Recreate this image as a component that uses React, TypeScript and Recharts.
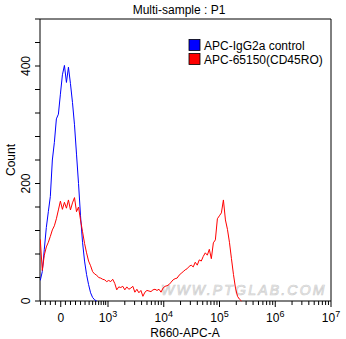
import { LineChart, Line, XAxis, YAxis, ReferenceArea } from 'recharts'

// histogram bins, in display units (one unit = one decade, 10^3 sits at 3)
const BIN_START = 1.785
const BIN_STEP = 0.0361

const controlCounts = [
  35, 50, 88, 125, 152, 178, 240, 270, 310, 318,
  352, 385, 401, 372, 398, 370, 338, 300, 250, 200,
  145, 100, 68, 45, 28, 14, 6, 2, 0,
]

const cd45roCounts = [
  105, 52, 78, 92, 100, 110, 121, 128, 140, 155,
  170, 156, 168, 158, 172, 155, 167, 176, 152, 160,
  138, 118, 98, 82, 68, 60, 50, 46, 44, 40,
  39, 37, 36, 33, 35, 33, 37, 30, 19, 24,
  23, 25, 19, 24, 20, 22, 25, 15, 20, 14,
  18, 8, 15, 18, 17, 16, 19, 20, 18, 20,
  15, 22, 25, 26, 28, 32, 36, 38, 39, 44,
  47, 50, 53, 55, 59, 61, 58, 66, 61, 70,
  68, 76, 82, 78, 88, 72, 99, 104, 140, 145,
  150, 172, 138, 122, 100, 72, 45, 22, 8, 3,
  0,
]

const seriesNames = ['APC-IgG2a control', 'APC-65150(CD45RO)']
const seriesColors = ['#0000ff', '#ff0000']

// x axis (biexponential): zero lands at 2.152, decades above 10^3 are linear in log
const ZERO_POS = 2.152
const xMajorTicks = [ZERO_POS, 3, 4, 5, 6, 7]
const xMajorExponents = ['', '3', '4', '5', '6', '7']
const xLinearMinor = [1.79, 1.875, 1.966, 2.056, 2.236, 2.327, 2.417, 2.507, 2.588, 2.661, 2.724, 2.778, 2.832, 2.877, 2.922, 2.958]

const yTicks = [0, 40, 80, 120, 160, 200, 240, 280, 320, 360, 400, 440, 480]
const yLabelled = [0, 200, 400]

const FONT = '"Liberation Sans", Arial, sans-serif'

const toBins = (counts: number[]) =>
  counts.map((count, i) => ({ x: BIN_START + i * BIN_STEP, count }))

const logMinor: number[] = []
for (let k = 3; k < 7; k++) {
  for (let m = 2; m <= 9; m++) logMinor.push(k + Math.log10(m))
}
const xTicks = [...xLinearMinor, ...xMajorTicks, ...logMinor].sort((a, b) => a - b)

function XTick({ x, y, payload }: any) {
  const idx = xMajorTicks.findIndex((t) => Math.abs(t - payload.value) < 1e-6)
  return (
    <g>
      <line x1={x} y1={y} x2={x} y2={y + (idx >= 0 ? 6 : 4)} stroke="#000" />
      {idx === 0 && (
        <text x={x} y={y + 20.5} textAnchor="middle" fontSize={12} fontFamily={FONT} fill="#000">0</text>
      )}
      {idx > 0 && (
        <text x={x} y={y + 20.5} textAnchor="middle" fontSize={12} fontFamily={FONT} fill="#000">
          10<tspan dy={-4.5} fontSize={9}>{xMajorExponents[idx]}</tspan>
        </text>
      )}
    </g>
  )
}

function YTick({ x, y, payload }: any) {
  const show = yLabelled.includes(payload.value)
  return (
    <g>
      <line x1={x - 5} y1={y} x2={x} y2={y} stroke="#000" />
      {show && (
        <text
          x={x - 10}
          y={y}
          transform={`rotate(-90 ${x - 10} ${y})`}
          textAnchor="middle"
          fontSize={12}
          fontFamily={FONT}
          fill="#000"
        >
          {payload.value}
        </text>
      )}
    </g>
  )
}

export default function App() {
  const controlData = toBins(controlCounts)
  const cd45roData = toBins(cd45roCounts)

  return (
    <div style={{ position: 'absolute', left: 0, top: 0, width: 346, height: 339, background: '#fff' }}>
      {/* watermark sits behind the plot */}
      <svg width={346} height={339} style={{ position: 'absolute', left: 0, top: 0 }}>
        <text
          x={161}
          y={295}
          fontSize={14}
          fontStyle="italic"
          fontFamily={FONT}
          letterSpacing={2.2}
          fill="#f2f2f2"
          stroke="#cfcfcf"
          strokeWidth={0.7}
        >
          WWW.PTGLAB.COM
        </text>
      </svg>

      <div style={{ position: 'absolute', left: 0, top: 0 }}>
        <LineChart width={346} height={339} margin={{ top: 19, right: 15, bottom: 0, left: 0 }}>
          <XAxis
            dataKey="x"
            type="number"
            domain={[1.78, 7]}
            allowDataOverflow
            ticks={xTicks}
            interval={0}
            tick={<XTick />}
            tickSize={0}
            tickMargin={0}
            tickLine={false}
            axisLine={false}
            height={38}
          />
          <YAxis
            type="number"
            domain={[0, 480]}
            ticks={yTicks}
            interval={0}
            tick={<YTick />}
            tickSize={0}
            tickMargin={0}
            tickLine={false}
            axisLine={false}
            width={40}
          />
          <ReferenceArea x1={1.78} x2={7} y1={0} y2={480} fill="none" stroke="#000" strokeWidth={1} />
          <Line
            data={controlData}
            dataKey="count"
            type="linear"
            stroke={seriesColors[0]}
            strokeWidth={1}
            dot={false}
            isAnimationActive={false}
          />
          <Line
            data={cd45roData}
            dataKey="count"
            type="linear"
            stroke={seriesColors[1]}
            strokeWidth={1}
            dot={false}
            isAnimationActive={false}
          />
        </LineChart>
      </div>

      {/* title, axis names and legend */}
      <svg
        width={346}
        height={339}
        style={{ position: 'absolute', left: 0, top: 0, pointerEvents: 'none' }}
        fontFamily={FONT}
        fontSize={12}
      >
        <text x={179} y={13.5} textAnchor="middle" fill="#000">Multi-sample : P1</text>
        <text x={185} y={336.5} textAnchor="middle" fill="#000">R660-APC-A</text>
        <text x={15} y={160} transform="rotate(-90 15 160)" textAnchor="middle" fill="#000">Count</text>
        {seriesNames.map((name, i) => (
          <g key={name}>
            <rect x={189} y={39.5 + i * 14} width={11} height={11} fill={seriesColors[i]} stroke="#000" strokeWidth={0.8} />
            <text x={204} y={49.5 + i * 14} fill="#000">{name}</text>
          </g>
        ))}
      </svg>
    </div>
  )
}
